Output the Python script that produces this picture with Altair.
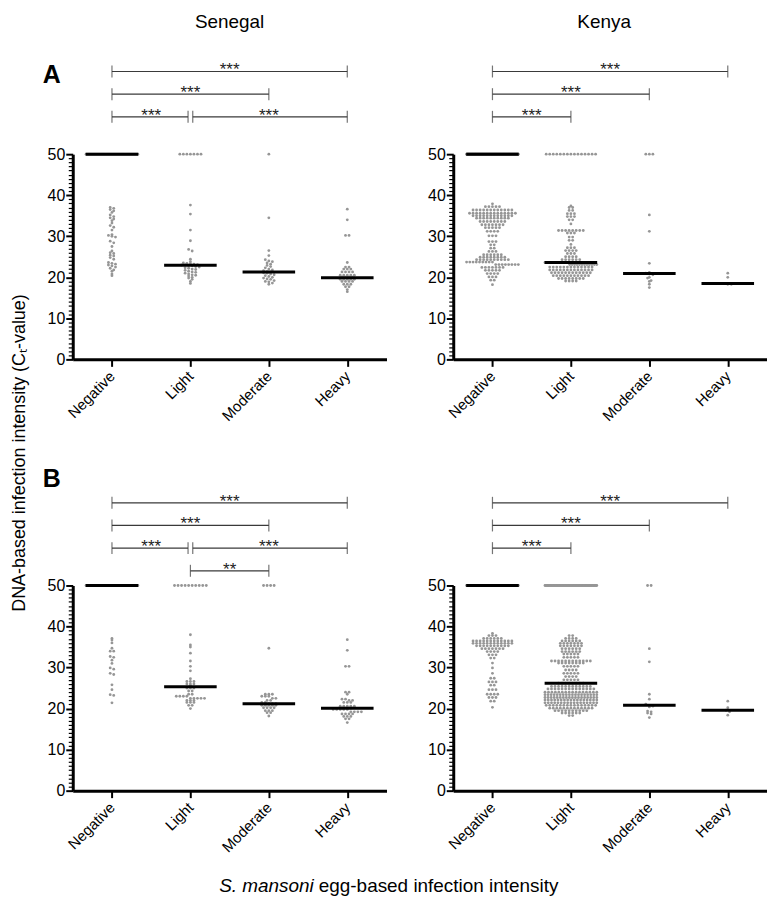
import json
import pandas as pd
import altair as alt

# ---------------- data ----------------
categories = ["Negative", "Light", "Moderate", "Heavy"]


def rep(levels, counts):
    out = []
    for v, c in zip(levels, counts):
        out += [v] * c
    return out


# Senegal, panel A
sen_a_negative = [50.0] * 45 + [37.0, 36.8, 36.5, 36.2, 35.8, 35.2, 34.8, 34.5, 34.2, 33.8, 33.2, 32.6, 32.2,
                                31.5, 30.4, 30.2, 30.0, 29.8, 28.8, 28.4, 27.5, 26.4, 26.0, 25.8, 25.4, 25.2,
                                24.8, 24.4, 23.6, 23.4, 23.2, 23.0, 22.8, 22.5, 22.2, 21.8, 21.5, 20.8, 20.4]
sen_a_light = [50.0] * 7 + [37.6, 35.4, 31.5, 28.9, 26.8, 26.4, 24.4, 23.8, 23.5, 23.4, 23.3, 23.2, 23.1, 23.0,
                            23.0, 22.9, 22.8, 22.6, 22.5, 22.3, 22.2, 22.0, 21.9, 21.7, 21.5, 21.3, 21.2, 21.0,
                            20.8, 20.6, 20.5, 20.3, 20.0, 19.8, 19.5, 19.0, 18.5]
sen_a_moderate = [50.0, 34.5, 26.5, 25.3, 24.3, 24.0, 23.8, 23.5, 23.2, 22.9, 22.6, 22.3, 22.0, 21.8, 21.6,
                  21.4, 21.3, 21.2, 21.1, 21.0, 20.8, 20.6, 20.4, 20.2, 20.0, 19.8, 19.6, 19.5, 19.2, 19.0,
                  18.9, 18.6, 18.3]
sen_a_heavy = rep([36.6, 34.0, 30.2, 23.6, 22.5, 22.0, 21.3, 20.5, 19.9, 19.5, 19.0, 18.3, 17.7, 17.0, 16.5],
                  [1, 1, 2, 1, 2, 3, 4, 5, 4, 5, 4, 3, 2, 1, 1])

# Kenya, panel A
ken_a_negative = [50.0] * 160 + rep(
    [37.9, 37.2, 36.4, 35.6, 35.0, 34.4, 33.6, 32.8, 32.1, 31.2, 30.1, 28.7, 27.9, 27.1, 26.3, 25.5, 24.9,
     24.3, 23.7, 23.1, 22.4, 21.7, 20.9, 20.1, 19.3, 18.2],
    [1, 5, 12, 14, 12, 10, 8, 7, 5, 4, 3, 3, 2, 2, 3, 6, 8, 10, 9, 8, 7, 5, 4, 3, 2, 1])
ken_a_light = [50.0] * 15 + rep(
    [37.4, 37.0, 36.3, 35.5, 34.8, 34.0, 33.0, 31.4, 30.8, 29.8, 29.0, 28.0, 27.2, 26.5, 25.8, 25.0, 24.3,
     23.6, 23.1, 22.5, 21.8, 21.1, 20.4, 19.7, 19.1],
    [1, 2, 2, 3, 3, 2, 1, 8, 3, 2, 2, 1, 3, 4, 3, 4, 6, 10, 12, 13, 13, 12, 11, 8, 4])
ken_a_moderate = [50.0, 50.0, 50.0, 35.2, 31.2, 23.4, 21.2, 21.0, 20.8, 20.6, 20.0, 19.8, 19.2, 19.0, 18.3, 17.5]
ken_a_heavy = [21.0, 20.0, 18.5, 18.3, 18.3]

# Senegal, panel B
sen_b_negative = [50.0] * 24 + [37.1, 36.7, 36.0, 34.7, 34.0, 34.0, 32.7, 32.5, 31.8, 31.0, 29.9, 29.6, 28.6,
                                28.3, 25.8, 24.6, 23.4, 23.2, 21.4]
sen_b_light = [50.0] * 10 + rep(
    [38.0, 35.5, 35.0, 33.5, 31.6, 30.3, 29.2, 27.3, 26.6, 26.0, 25.6, 25.0, 24.3, 23.5, 23.0, 22.5, 22.0,
     21.5, 20.8, 20.0],
    [1, 1, 1, 1, 1, 1, 1, 1, 3, 3, 1, 3, 2, 2, 4, 5, 3, 3, 2, 1])
sen_b_moderate = [50.0] * 4 + rep([34.7, 23.5, 23.0, 22.5, 22.0, 21.5, 21.2, 20.8, 20.2, 19.5, 19.0, 18.2],
                                  [1, 3, 3, 2, 2, 2, 3, 5, 4, 3, 2, 1])
sen_b_heavy = rep([36.8, 34.2, 30.3, 24.0, 23.5, 22.3, 22.0, 21.5, 20.6, 20.1, 19.8, 19.2, 18.7, 18.1, 17.5, 16.6],
                  [1, 1, 2, 2, 1, 2, 2, 3, 5, 3, 5, 4, 4, 3, 2, 1])

# Kenya, panel B
ken_b_negative = [50.0] * 90 + rep(
    [38.3, 37.8, 37.1, 36.5, 35.9, 35.3, 34.6, 33.9, 33.1, 32.3, 31.1, 29.9, 28.6, 27.4, 26.5, 25.7, 24.6,
     23.5, 22.7, 21.8, 20.3],
    [1, 3, 6, 12, 12, 10, 7, 4, 3, 2, 1, 1, 1, 2, 3, 2, 3, 4, 3, 2, 1])
ken_b_light = [50.0] * 70 + rep(
    [37.8, 37.1, 36.5, 35.9, 35.3, 34.6, 33.9, 33.3, 32.5, 31.6, 31.1, 30.3, 29.4, 28.6, 27.8, 27.0, 26.2,
     25.4, 24.8, 24.0, 23.4, 22.7, 22.1, 21.4, 20.8, 20.1, 19.5, 18.9, 18.3],
    [2, 4, 6, 7, 7, 6, 6, 5, 5, 12, 8, 5, 4, 5, 4, 5, 8, 12, 14, 16, 18, 18, 17, 17, 15, 13, 10, 6, 2])
ken_b_moderate = [50.0, 50.0, 34.6, 31.4, 23.5, 22.3, 21.1, 20.8, 20.6, 20.4, 19.4, 19.2, 18.9, 18.7, 17.8]
ken_b_heavy = [21.8, 20.2, 19.6, 19.2, 18.4]

# significance brackets: (from category index, to category index, row, label)
sen_a_brackets = [(0, 1, 2, "***"), (1, 3, 2, "***"), (0, 2, 3, "***"), (0, 3, 4, "***")]
ken_a_brackets = [(0, 1, 2, "***"), (0, 2, 3, "***"), (0, 3, 4, "***")]
sen_b_brackets = [(1, 2, 1, "**"), (0, 1, 2, "***"), (1, 3, 2, "***"), (0, 2, 3, "***"), (0, 3, 4, "***")]
ken_b_brackets = [(0, 1, 2, "***"), (0, 2, 3, "***"), (0, 3, 4, "***")]

# ---------------- styling ----------------
FONT = "Liberation Sans"
W, H = 315, 206
DOT = "#969696"
BR = "#3a3a3a"
MED_HALF = 0.335


def swarm(values, idx, step=0.045, half=0.33, binh=0.65):
    rows = {}
    for v in sorted(values, reverse=True):
        rows.setdefault(int(round(v / binh)), []).append(v)
    out = []
    for vs in rows.values():
        n = len(vs)
        sp = step if (n - 1) * step <= 2 * half else 2 * half / (n - 1)
        for k, v in enumerate(vs):
            out.append((idx + (k - (n - 1) / 2) * sp, v))
    return out


xs = alt.Scale(domain=[-0.5, 3.5], nice=False, zero=False)
ys = alt.Scale(domain=[0, 50], nice=False, zero=False)
rs = alt.Scale(domain=[0, 4], range=[8, -83], nice=False, zero=False)

xaxis = alt.Axis(values=[0, 1, 2, 3], labelExpr=f"{json.dumps(categories)}[datum.value]",
                 labelAngle=-45, labelAlign="right", labelBaseline="middle",
                 tickSize=7, tickWidth=2, tickColor="black", domainWidth=3, domainColor="black",
                 labelFont=FONT, labelFontSize=15, labelColor="black", labelPadding=7,
                 grid=False, title=None)
yaxis = alt.Axis(values=list(range(0, 51)),
                 labelExpr="datum.value % 10 === 0 ? datum.label : ''",
                 tickSize={"condition": {"test": "datum.value % 10 === 0", "value": 7}, "value": 4.5},
                 tickWidth={"condition": {"test": "datum.value % 10 === 0", "value": 2}, "value": 1.2},
                 tickColor="black", domainWidth=3, domainColor="black",
                 labelFont=FONT, labelFontSize=16, labelColor="black", labelPadding=1,
                 labelOverlap=False, grid=False, title=None)


def text_layer(txt, px, py, **kw):
    return alt.Chart(pd.DataFrame({"t": [txt]})).mark_text(font=FONT, **kw).encode(
        x=alt.value(px), y=alt.value(py), text="t:N")


def make_panel(groups, brackets, extras):
    rows = []
    for i, vals in enumerate(groups):
        for xx, v in swarm(vals, i):
            rows.append({"idx": i, "x": xx, "value": v})
    df = pd.DataFrame(rows)

    pts = alt.Chart(df).mark_circle(size=8, color=DOT, opacity=1).encode(
        x=alt.X("x:Q", scale=xs, axis=xaxis, title=None),
        y=alt.Y("value:Q", scale=ys, axis=yaxis, title=None))
    med = alt.Chart(df).transform_aggregate(
        med="median(value)", groupby=["idx"]
    ).transform_calculate(
        xa=f"datum.idx - {MED_HALF}", xb=f"datum.idx + {MED_HALF}"
    ).mark_rule(color="black", strokeWidth=3).encode(
        x=alt.X("xa:Q", scale=xs, axis=xaxis, title=None), x2="xb:Q",
        y=alt.Y("med:Q", scale=ys, axis=yaxis, title=None))
    data_layer = alt.layer(pts, med)

    # brackets; nudge endpoints shared by two brackets on one row
    recs, ticks = [], []
    for a, b, r, lab in brackets:
        xa, xb = float(a), float(b)
        for a2, b2, r2, _ in brackets:
            if r2 == r and (a2, b2) != (a, b):
                if b2 == a:
                    xa += 0.03
                if a2 == b:
                    xb -= 0.03
        recs.append({"xa": xa, "xb": xb, "xm": (a + b) / 2, "row": r, "label": lab})
        ticks += [{"xt": xa, "row": r}, {"xt": xb, "row": r}]
    bdf = pd.DataFrame(recs)
    tdf = pd.DataFrame(ticks)
    br_rule = alt.Chart(bdf).mark_rule(color=BR, strokeWidth=1.2).encode(
        x=alt.X("xa:Q", scale=xs, axis=xaxis, title=None), x2="xb:Q",
        y=alt.Y("row:Q", scale=rs, axis=None))
    br_tick = alt.Chart(tdf).mark_tick(orient="vertical", size=12, thickness=1.2, color=BR).encode(
        x=alt.X("xt:Q", scale=xs, axis=xaxis, title=None),
        y=alt.Y("row:Q", scale=rs, axis=None))
    br_text = alt.Chart(bdf).mark_text(font=FONT, fontSize=17, dy=4, baseline="alphabetic",
                                       color="#222").encode(
        x=alt.X("xm:Q", scale=xs, axis=xaxis, title=None),
        y=alt.Y("row:Q", scale=rs, axis=None),
        text="label:N")
    return alt.layer(data_layer, br_rule, br_tick, br_text, *extras).resolve_scale(
        y="independent").properties(width=W, height=H)


sa = make_panel([sen_a_negative, sen_a_light, sen_a_moderate, sen_a_heavy], sen_a_brackets, [
    text_layer("Senegal", W / 2, -133, fontSize=19, align="center", baseline="middle"),
    text_layer("A", -21, -79, fontSize=25, fontWeight="bold", align="center", baseline="middle"),
    text_layer("DNA-based infection intensity (Cₜ-value)", -53, 300, fontSize=18, angle=270,
               align="center", baseline="middle"),
])
ka = make_panel([ken_a_negative, ken_a_light, ken_a_moderate, ken_a_heavy], ken_a_brackets, [
    text_layer("Kenya", W / 2 - 6, -133, fontSize=19, align="center", baseline="middle"),
])
sb = make_panel([sen_b_negative, sen_b_light, sen_b_moderate, sen_b_heavy], sen_b_brackets, [
    text_layer("B", -21, -107, fontSize=25, fontWeight="bold", align="center", baseline="middle"),
    text_layer("S. mansoni", 242, 302, fontSize=19, fontStyle="italic", align="right", baseline="middle"),
    text_layer("egg-based infection intensity", 247, 302, fontSize=19, align="left", baseline="middle"),
])
kb = make_panel([ken_b_negative, ken_b_light, ken_b_moderate, ken_b_heavy], ken_b_brackets, [])

chart = alt.concat(
    sa, ka, sb, kb, columns=2,
    spacing={"row": 227, "column": 67}, bounds="flush",
).properties(padding={"left": 3, "top": 3, "right": 0, "bottom": 0}).configure_view(stroke=None)

chart.save("out.html", embed_options={"renderer": "svg", "actions": False})
